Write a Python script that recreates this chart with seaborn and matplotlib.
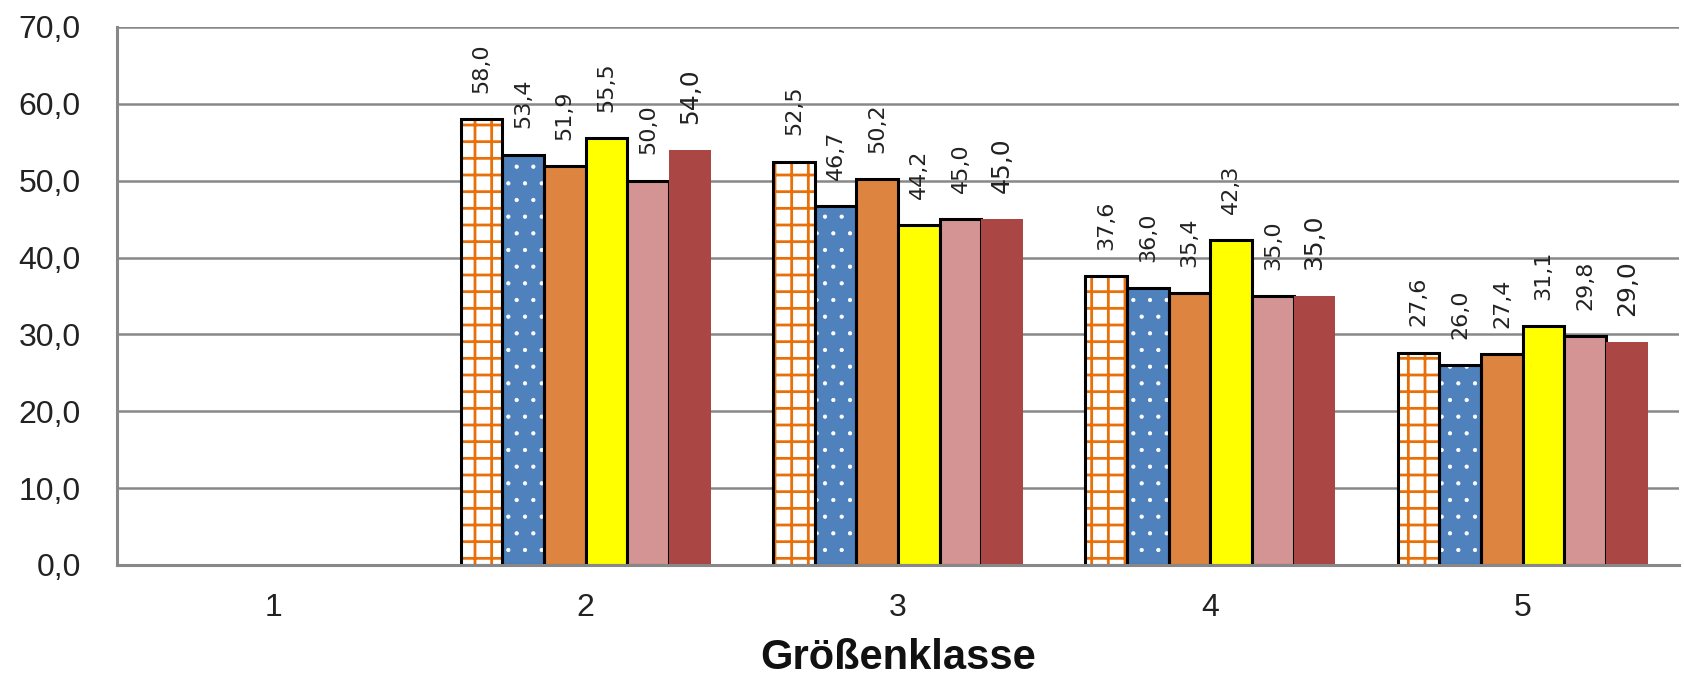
import numpy as np
import pandas as pd
import matplotlib
matplotlib.use("Agg")
import matplotlib.pyplot as plt
import seaborn as sns
from matplotlib.patches import Rectangle

categories = ["1", "2", "3", "4", "5"]
series_names = ["Reihe 1", "Reihe 2", "Reihe 3", "Reihe 4", "Reihe 5", "Reihe 6"]
s1 = [np.nan, 58.0, 52.5, 37.6, 27.6]
s2 = [np.nan, 53.4, 46.7, 36.0, 26.0]
s3 = [np.nan, 51.9, 50.2, 35.4, 27.4]
s4 = [np.nan, 55.5, 44.2, 42.3, 31.1]
s5 = [np.nan, 50.0, 45.0, 35.0, 29.8]
s6 = [np.nan, 54.0, 45.0, 35.0, 29.0]
y_ticks = [0, 10, 20, 30, 40, 50, 60, 70]
x_label = "Größenklasse"

series_values = [s1, s2, s3, s4, s5, s6]
rows = []
for name, vals in zip(series_names, series_values):
    for cat, v in zip(categories, vals):
        if not np.isnan(v):
            rows.append({"Klasse": cat, "Reihe": name, "Wert": v})
df = pd.DataFrame(rows)

face_colors = ["#FFFFFF", "#4F81BD", "#DD8440", "#FFFF00", "#D49494", "#AA4643"]
hatches = ["+", ".", None, None, None, None]
hatch_colors = ["#E8700A", "#FFFFFF", None, None, None, None]
hatch_widths = [2.0, 0.6, None, None, None, None]
outlined = [True, True, True, True, True, False]

sns.set_style("white")
plt.rcParams["font.family"] = ["Liberation Sans", "DejaVu Sans"]
plt.rcParams["hatch.linewidth"] = 2.0

fig = plt.figure(figsize=(16.84, 6.80), dpi=100)
ax = fig.add_axes([117 / 1684, 1 - 565 / 680, (1679 - 117) / 1684, (565 - 27) / 680])

palette = dict(zip(series_names, face_colors))
sns.barplot(data=df, x="Klasse", y="Wert", hue="Reihe", order=categories,
            hue_order=series_names, palette=palette, width=0.8, gap=0,
            saturation=1, legend=False, ax=ax, zorder=3)

grid_color = "#888888"
for i, cont in enumerate(ax.containers):
    for p in cont.patches:
        p.set_facecolor(face_colors[i])
        p.set_zorder(3)
        if hatches[i] is not None:
            p.set_hatch(hatches[i])
            p.set_edgecolor(hatch_colors[i])
            p.set_linewidth(0)
            if hasattr(p, "set_hatch_linewidth"):
                p.set_hatch_linewidth(hatch_widths[i])
        else:
            p.set_edgecolor("black" if outlined[i] else face_colors[i])
            p.set_linewidth(2.2 if outlined[i] else 0)
        if hatches[i] is not None and outlined[i]:
            ax.add_patch(Rectangle((p.get_x(), p.get_y()), p.get_width(), p.get_height(),
                                   facecolor="none", edgecolor="black", linewidth=2.2,
                                   zorder=4))
    labels = [f"{v:.1f}".replace(".", ",") for v in cont.datavalues]
    ax.bar_label(cont, labels=labels, rotation=90, padding=19,
                 fontsize=18 if i == 5 else 16, family="DejaVu Sans",
                 color="#222222")

ax.set_ylim(0, 70)
ax.set_xlim(-0.5, len(categories) - 0.5)
ax.set_yticks(y_ticks)
ax.set_yticklabels([f"{t:.1f}".replace(".", ",") for t in y_ticks], fontsize=23, color="#222222")
ax.set_xticks(range(len(categories)))
ax.set_xticklabels(categories, fontsize=23, color="#222222")
ax.set_xticks(np.arange(-0.5, len(categories), 1.0), minor=True)
ax.tick_params(axis="x", which="major", length=0, pad=20)
ax.tick_params(axis="x", which="minor", length=8, width=2, color=grid_color, direction="out")
ax.tick_params(axis="y", which="major", length=10, width=2, color=grid_color, direction="out", pad=16)

ax.yaxis.grid(True, color=grid_color, linewidth=1.8, zorder=0)
ax.set_axisbelow(True)
for side in ["top", "right"]:
    ax.spines[side].set_visible(False)
for side in ["left", "bottom"]:
    ax.spines[side].set_color(grid_color)
    ax.spines[side].set_linewidth(2.2)
    ax.spines[side].set_zorder(5)

ax.set_ylabel("")
ax.set_xlabel(x_label, fontsize=30, fontweight="bold", labelpad=11, color="#111111")

fig.savefig("out.png", dpi=100)
